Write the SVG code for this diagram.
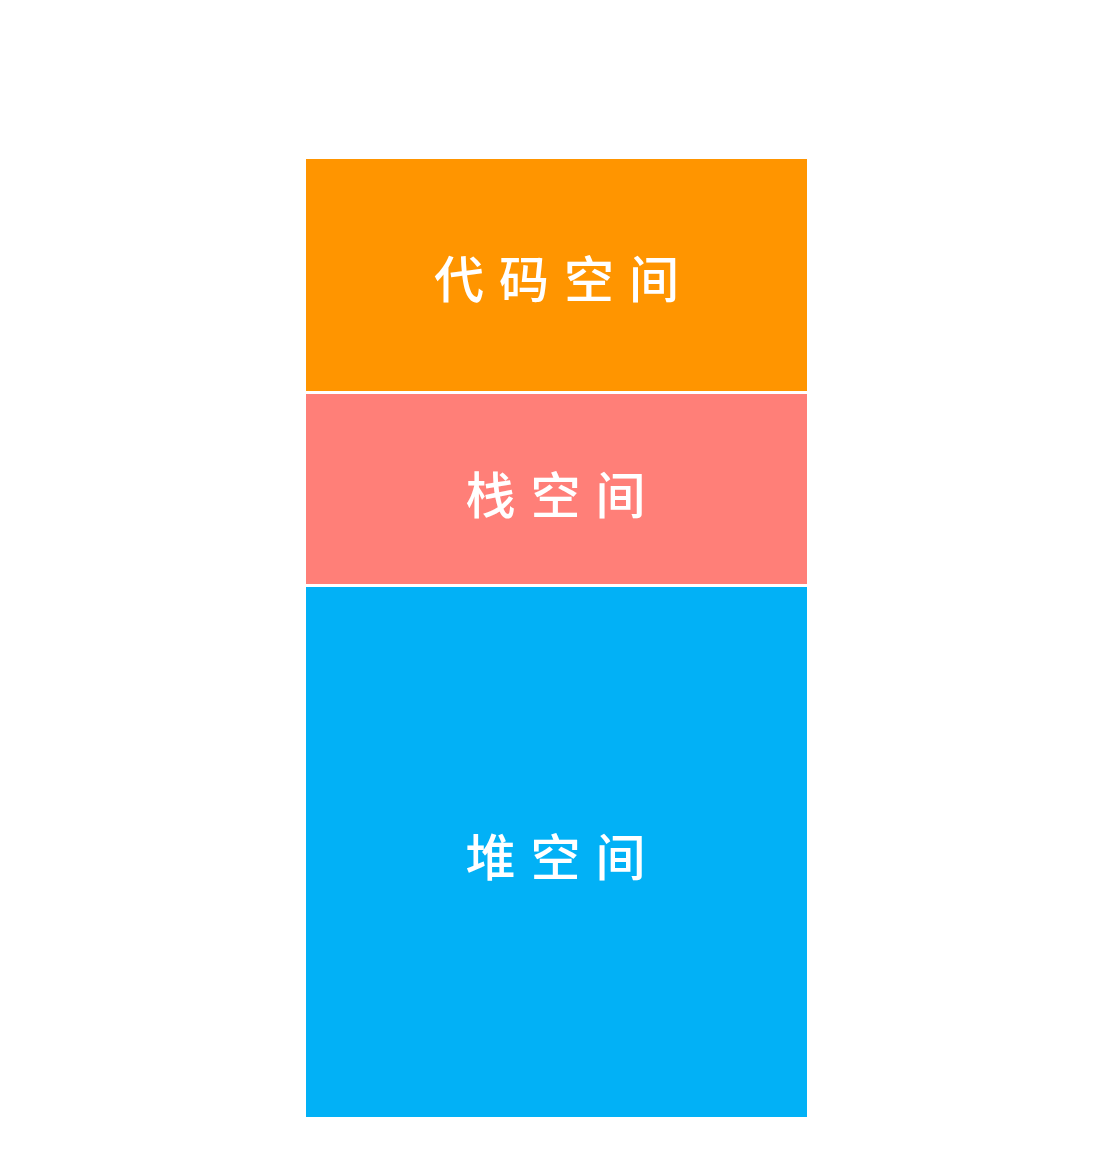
<svg xmlns="http://www.w3.org/2000/svg" width="1120" height="1160" viewBox="0 0 1120 1160">
<style>
.lbl{font-family:"Noto Sans CJK SC","Noto Sans",sans-serif;font-size:50px;font-weight:500;fill:#ffffff;text-anchor:middle;dominant-baseline:central;letter-spacing:15px}
</style>
<rect width="1120" height="1160" fill="#ffffff"/>
<g id="code">
<rect x="306" y="159" width="501" height="232" fill="#FF9500"/>
<text class="lbl" x="564" y="276">代码空间</text>
</g>
<g id="stack">
<rect x="306" y="394" width="501" height="190" fill="#FF7F78"/>
<text class="lbl" x="563" y="492">栈空间</text>
</g>
<g id="heap">
<rect x="306" y="587" width="501" height="530" fill="#02B1F6"/>
<text class="lbl" x="563" y="854">堆空间</text>
</g>
<g id="connectors"/>
</svg>
